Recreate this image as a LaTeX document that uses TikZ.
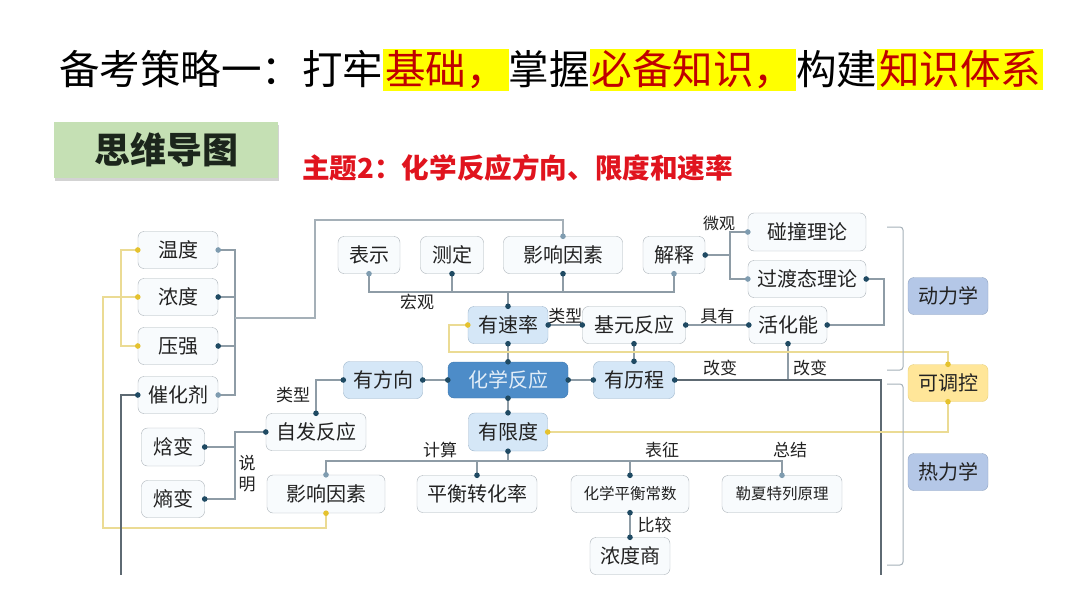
\documentclass[tikz,border=0pt]{standalone}
\usepackage{fontspec}
\setmainfont{Noto Sans CJK SC}
\usetikzlibrary{shadows}

\definecolor{hlyellow}{HTML}{FFFF00}
\definecolor{hlred}{HTML}{C00000}
\definecolor{mapgreen}{HTML}{C5E0B4}
\definecolor{mapdark}{HTML}{1C261C}
\definecolor{subred}{HTML}{E0141E}
\definecolor{txt}{HTML}{222222}
\definecolor{boxline}{HTML}{A9B1B7}
\definecolor{boxfill}{HTML}{F8FBFD}
\definecolor{blfill}{HTML}{D5E7F7}
\definecolor{blline}{HTML}{9AB3C9}
\definecolor{hubfill}{HTML}{4D8CC8}
\definecolor{hubline}{HTML}{3E78AE}
\definecolor{hubtext}{HTML}{E3EEF8}
\definecolor{ln}{HTML}{8E9CA6}
\definecolor{dln}{HTML}{5E6A73}
\definecolor{yln}{HTML}{EBDB94}
\definecolor{dotdk}{HTML}{1F4A63}
\definecolor{dotlt}{HTML}{7F9CB0}
\definecolor{dotyl}{HTML}{E5C22E}
\definecolor{dynfill}{HTML}{B4C7E7}
\definecolor{dynline}{HTML}{8FA3C0}
\definecolor{ctrlfill}{HTML}{FFE699}
\definecolor{ctrlline}{HTML}{E6CF7A}

\setlength{\fboxsep}{2pt}
\newcommand{\hlt}[1]{\colorbox{hlyellow}{\textcolor{hlred}{#1}}}

\begin{document}
\begin{tikzpicture}[
    x=1pt, y=-1pt,
    mbox/.style={
        draw=boxline,
        fill=boxfill,
        rounded corners=6pt,
        minimum height=37pt,
        inner sep=0pt,
        text=txt,
        font=\fontsize{20}{20}\selectfont
    },
    sbox/.style={mbox, fill=blfill, draw=blline},
    tag/.style={font=\fontsize{17}{17}\selectfont, text=txt, inner sep=1pt},
    conn/.style={draw=ln, line width=1.1pt},
    dconn/.style={draw=dln, line width=1.2pt},
    yconn/.style={draw=yln, line width=1.1pt},
    brk/.style={draw=ln!80, line width=1pt, rounded corners=3pt}
    ]

    \useasboundingbox (0,0) rectangle (1080,608);

    % heading
    \node[anchor=west, inner sep=0pt, font=\fontsize{40.5}{40.5}\selectfont] (title) at (59,70)
    {备考策略一：打牢\hlt{基础，}掌握\hlt{必备知识，}构建\hlt{知识体系}};

    \node[fill=mapgreen, minimum width=224pt, minimum height=56pt, text=mapdark,
          font=\bfseries\fontsize{36}{36}\selectfont,
          drop shadow={shadow xshift=1pt, shadow yshift=-2.5pt, opacity=.35}] (mindmap) at (166,150) {思维导图};

    \node[anchor=west, inner sep=0pt, text=subred, font=\bfseries\fontsize{27.6}{27.6}\selectfont] (topic) at (302,168)
    {主题2：化学反应方向、限度和速率};

    % left column
    \node[mbox, minimum width=80pt] (wendu) at (178,250) {温度};
    \node[mbox, minimum width=80pt] (nongdu) at (178,297) {浓度};
    \node[mbox, minimum width=80pt] (yaqiang) at (178,346) {压强};
    \node[mbox, minimum width=80pt] (cuihua) at (178,395) {催化剂};

    % top row
    \node[mbox, minimum width=62pt] (biaoshi) at (369,255) {表示};
    \node[mbox, minimum width=63pt] (ceding) at (452,255) {测定};
    \node[mbox, minimum width=119pt] (yinsuA) at (563,255) {影响因素};
    \node[mbox, minimum width=62pt] (jieshi) at (674,255) {解释};
    \node[mbox, minimum width=118pt, minimum height=38pt] (pengzhuang) at (807,232) {碰撞理论};
    \node[mbox, minimum width=118pt] (guodu) at (807,279) {过渡态理论};
    \node[mbox, minimum width=78pt] (huohua) at (788,325) {活化能};

    % centre
    \node[sbox, minimum width=80pt] (sulv) at (508,325) {有速率};
    \node[mbox, minimum width=103pt] (jiyuan) at (634,325) {基元反应};
    \node[mbox, fill=hubfill, draw=hubline, text=hubtext, minimum width=120pt, minimum height=36pt] (fanying) at (508,380) {化学反应};
    \node[sbox, minimum width=79pt] (fangxiang) at (383,380) {有方向};
    \node[sbox, minimum width=81pt] (licheng) at (634,380) {有历程};
    \node[sbox, minimum width=79pt, minimum height=38pt] (xiandu) at (508,432) {有限度};
    \node[mbox, minimum width=100pt] (zifa) at (316,432) {自发反应};
    \node[mbox, minimum width=63pt, minimum height=38pt] (hanbian) at (173,447) {焓变};
    \node[mbox, minimum width=63pt] (shangbian) at (173,499) {熵变};

    % bottom row
    \node[mbox, minimum width=118pt, minimum height=38pt] (yinsuB) at (326,494) {影响因素};
    \node[mbox, minimum width=120pt] (zhuanhua) at (477,494) {平衡转化率};
    \node[mbox, minimum width=118pt, font=\fontsize{15.5}{15.5}\selectfont] (changshu) at (630,494) {化学平衡常数};
    \node[mbox, minimum width=120pt, font=\fontsize{15.5}{15.5}\selectfont] (lexia) at (782,494) {勒夏特列原理};
    \node[mbox, minimum width=80pt] (shang) at (630,556) {浓度商};

    % right side
    \node[mbox, fill=dynfill, draw=dynline, minimum width=80pt] (dongli) at (948,296) {动力学};
    \node[mbox, fill=ctrlfill, draw=ctrlline, minimum width=80pt] (kediao) at (948,383) {可调控};
    \node[mbox, fill=dynfill, draw=dynline, minimum width=80pt] (reli) at (948,472) {热力学};

    % bend points
    \coordinate (lbr) at (235,318);
    \coordinate (ktop) at (315,220);
    \coordinate (ly) at (121,297);
    \coordinate (ybot) at (103,528);
    \coordinate (cbot) at (121,575);
    \coordinate (hg) at (508,292);
    \coordinate (wg) at (730,255);
    \coordinate (gr) at (884,300);
    \coordinate (rbot) at (881,575);
    \coordinate (sm) at (235,432);
    \coordinate (bh) at (508,461);
    \coordinate (yt) at (449,352);

    % connectors
    \draw[conn] (wendu.east) -- (wendu.east -| lbr) |- (cuihua.east);
    \draw[conn] (nongdu.east) -- (nongdu.east -| lbr);
    \draw[conn] (yaqiang.east) -- (yaqiang.east -| lbr);
    \draw[conn, draw=ln!80] (lbr) -| (ktop) -| (yinsuA.north);

    \draw[yconn] (wendu.west) -- (wendu.west -| ly) |- (yaqiang.west);
    \draw[yconn] (nongdu.west) -| (ybot) -| (yinsuB.south);
    \draw[dconn] (cuihua.west) -| (cbot);

    \draw[conn] (biaoshi.south) |- (hg) -| (jieshi.south);
    \draw[conn] (ceding.south) -- (ceding.south |- hg);
    \draw[conn] (yinsuA.south) -- (yinsuA.south |- hg);
    \draw[conn] (hg) -- (sulv.north);
    \node[tag] (hongguan) at (417,302) {宏观};

    \draw[conn] (sulv.east) -- node[tag, above] (leixingA) {类型} (jiyuan.west);
    \draw[conn] (jiyuan.east) -- node[tag, above] (juyou) {具有} (huohua.west);
    \draw[conn] (jieshi.east) -- (wg);
    \draw[conn] (pengzhuang.west) -| (wg);
    \draw[conn] (guodu.west) -| (wg);
    \node[tag, font=\fontsize{16}{16}\selectfont] (weiguan) at (719,223) {微观};
    \draw[conn] (guodu.east) -| (gr) |- (huohua.east);
    \draw[conn] (huohua.south) -- (huohua.south |- licheng.east);
    \draw[dconn] (licheng.east) -| (rbot);
    \node[tag] (gaibianA) at (720,368) {改变};
    \node[tag] (gaibianB) at (810,368) {改变};

    \draw[conn] (sulv.south) -- (fanying.north);
    \draw[conn] (fanying.south) -- (xiandu.north);
    \draw[conn] (fangxiang.east) -- (fanying.west);
    \draw[conn] (fanying.east) -- (licheng.west);
    \draw[conn] (jiyuan.south) -- (licheng.north);

    \draw[conn] (fangxiang.west) -| (zifa.north);
    \node[tag] (leixingB) at (293,395) {类型};
    \draw[conn] (shangbian.east) -| (sm) -- (zifa.west);
    \draw[conn] (hanbian.east) -- (hanbian.east -| sm);
    \node[tag, align=center, font=\fontsize{17}{21}\selectfont] (shuoming) at (247,474) {说\\明};

    \draw[conn] (xiandu.south) -- (bh);
    \draw[conn] (yinsuB.north) |- (bh) -| (lexia.north);
    \draw[conn] (zhuanhua.north) -- (zhuanhua.north |- bh);
    \draw[conn] (changshu.north) -- (changshu.north |- bh);
    \node[tag] (jisuan) at (440,450) {计算};
    \node[tag] (biaozheng) at (662,450) {表征};
    \node[tag] (zongjie) at (790,450) {总结};
    \draw[conn] (changshu.south) -- node[tag, right=6pt] (bijiao) {比较} (shang.north);

    \draw[yconn] (sulv.west) -| (yt) -| (kediao.north);
    \draw[yconn] (kediao.south) |- (xiandu.east);

    % brackets
    \draw[brk] (887,227) -- (903,227) -- (903,370) -- (887,370);
    \draw[brk] (887,384) -- (903,384) -- (903,565) -- (887,565);

    % joint dots
    \foreach \p in {nongdu.east, yaqiang.east, cuihua.west, ceding.south, yinsuA.south,
                    sulv.north, sulv.east, sulv.south, jiyuan.west, jiyuan.east, jiyuan.south,
                    huohua.west, huohua.east, huohua.south, guodu.east, jieshi.east,
                    fanying.north, fanying.south, fanying.west, fanying.east,
                    fangxiang.west, fangxiang.east, licheng.west, licheng.east, licheng.north,
                    xiandu.north, xiandu.south, zifa.north, zifa.west, hanbian.east, shangbian.east,
                    zhuanhua.north, changshu.north, changshu.south, shang.north}
        \fill[dotdk] (\p) circle (2.8pt);
    \foreach \p in {wendu.east, cuihua.east, biaoshi.south, jieshi.south, yinsuA.north,
                    pengzhuang.west, guodu.west, yinsuB.north, lexia.north}
        \fill[dotlt] (\p) circle (2.8pt);
    \foreach \p in {wendu.west, nongdu.west, yaqiang.west, yinsuB.south, sulv.west,
                    xiandu.east, kediao.north, kediao.south}
        \fill[dotyl] (\p) circle (2.8pt);

\end{tikzpicture}
\end{document}
